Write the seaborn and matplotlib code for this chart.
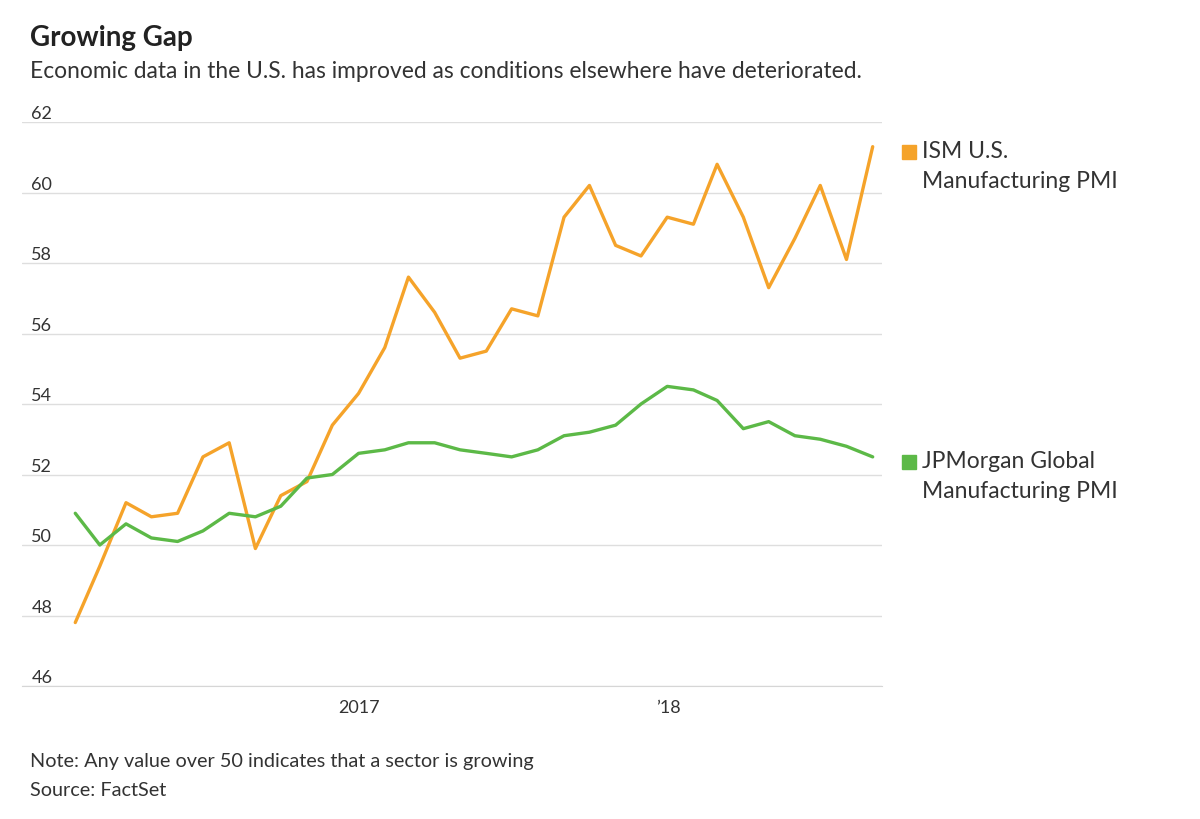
import matplotlib
matplotlib.use("Agg")
import matplotlib.pyplot as plt
import matplotlib.transforms as mtransforms
import pandas as pd
import seaborn as sns

# monthly readings, Jan 2016 - Aug 2018 (plotted at month end)
months = pd.date_range(start="2016-01-01", periods=32, freq="MS") + pd.offsets.MonthEnd(0)

ism_us = [47.8, 49.4, 51.2, 50.8, 50.9, 52.5, 52.9, 49.9, 51.4, 51.8, 53.4, 54.3,
          55.6, 57.6, 56.6, 55.3, 55.5, 56.7, 56.5, 59.3, 60.2, 58.5, 58.2, 59.3,
          59.1, 60.8, 59.3, 57.3, 58.7, 60.2, 58.1, 61.3]
jpm_global = [50.9, 50.0, 50.6, 50.2, 50.1, 50.4, 50.9, 50.8, 51.1, 51.9, 52.0, 52.6,
              52.7, 52.9, 52.9, 52.7, 52.6, 52.5, 52.7, 53.1, 53.2, 53.4, 54.0, 54.5,
              54.4, 54.1, 53.3, 53.5, 53.1, 53.0, 52.8, 52.5]

series_names = ["ISM U.S.\nManufacturing PMI", "JPMorgan Global\nManufacturing PMI"]
series_colors = ["#f5a32a", "#5cb947"]
y_ticks = [46, 48, 50, 52, 54, 56, 58, 60, 62]
x_ticks = ["2017-01-01", "2018-01-01"]
x_labels = ["2017", "\u201918"]

df = pd.concat([
    pd.DataFrame({"date": months, "value": ism_us, "series": series_names[0]}),
    pd.DataFrame({"date": months, "value": jpm_global, "series": series_names[1]}),
])

sns.set_style("white")
plt.rcParams["font.family"] = ["Lato", "DejaVu Sans"]

fig = plt.figure(figsize=(12, 8.19), dpi=100)
ax = fig.add_axes([22 / 1200, 1 - 686 / 819, 860 / 1200, 564 / 819])

sns.lineplot(data=df, x="date", y="value", hue="series",
             palette=dict(zip(series_names, series_colors)),
             linewidth=2.4, legend=False, ax=ax)

ax.set_xlim(pd.Timestamp("2015-11-29"), pd.Timestamp("2018-09-11"))
ax.set_ylim(46, 62)
ax.set_xlabel("")
ax.set_ylabel("")

ax.set_yticks(y_ticks)
ax.grid(axis="y", color="#dedede", linewidth=1)
ax.grid(axis="x", visible=False)
ax.tick_params(axis="y", length=0, labelleft=False)

ax.set_xticks([pd.Timestamp(t) for t in x_ticks])
ax.set_xticklabels(x_labels)
ax.tick_params(axis="x", length=5, width=1, color="#888888", direction="out",
               pad=5, labelsize=13, labelcolor="#333333")

for side in ["top", "right", "left"]:
    ax.spines[side].set_visible(False)
ax.spines["bottom"].set_color("#d6d6d6")

# y labels sit above the gridlines
yax = mtransforms.blended_transform_factory(ax.transAxes, ax.transData)
for v in y_ticks:
    ax.annotate(str(v), xy=(0.011, v), xycoords=yax, xytext=(0, 2),
                textcoords="offset points", ha="left", va="baseline",
                fontsize=13, color="#333333", annotation_clip=False)

# direct labels next to the last values
swatch = yax + mtransforms.ScaledTranslation(0, -4 / 72, fig.dpi_scale_trans)
for name, color, vals in zip(series_names, series_colors, [ism_us, jpm_global]):
    last = vals[-1]
    ax.plot([1.0315], [last], marker="s", markersize=10, color=color,
            transform=swatch, clip_on=False, linestyle="none")
    ax.annotate(name, xy=(1.047, last), xycoords=yax, xytext=(0, 4),
                textcoords="offset points", ha="left", va="top",
                fontsize=16.5, color="#333333", linespacing=1.5,
                annotation_clip=False)

fig.text(30 / 1200, 1 - 38 / 819, "Growing Gap", fontsize=20, fontweight="bold",
         color="#222222", va="center", ha="left")
fig.text(30 / 1200, 1 - 72 / 819,
         "Economic data in the U.S. has improved as conditions elsewhere have deteriorated.",
         fontsize=16.4, color="#333333", va="center", ha="left")
fig.text(30 / 1200, 1 - 762 / 819,
         "Note: Any value over 50 indicates that a sector is growing",
         fontsize=14.3, color="#333333", va="center", ha="left")
fig.text(30 / 1200, 1 - 790 / 819, "Source: FactSet",
         fontsize=14.3, color="#333333", va="center", ha="left")

fig.savefig("out.png", dpi=100, facecolor="white")
